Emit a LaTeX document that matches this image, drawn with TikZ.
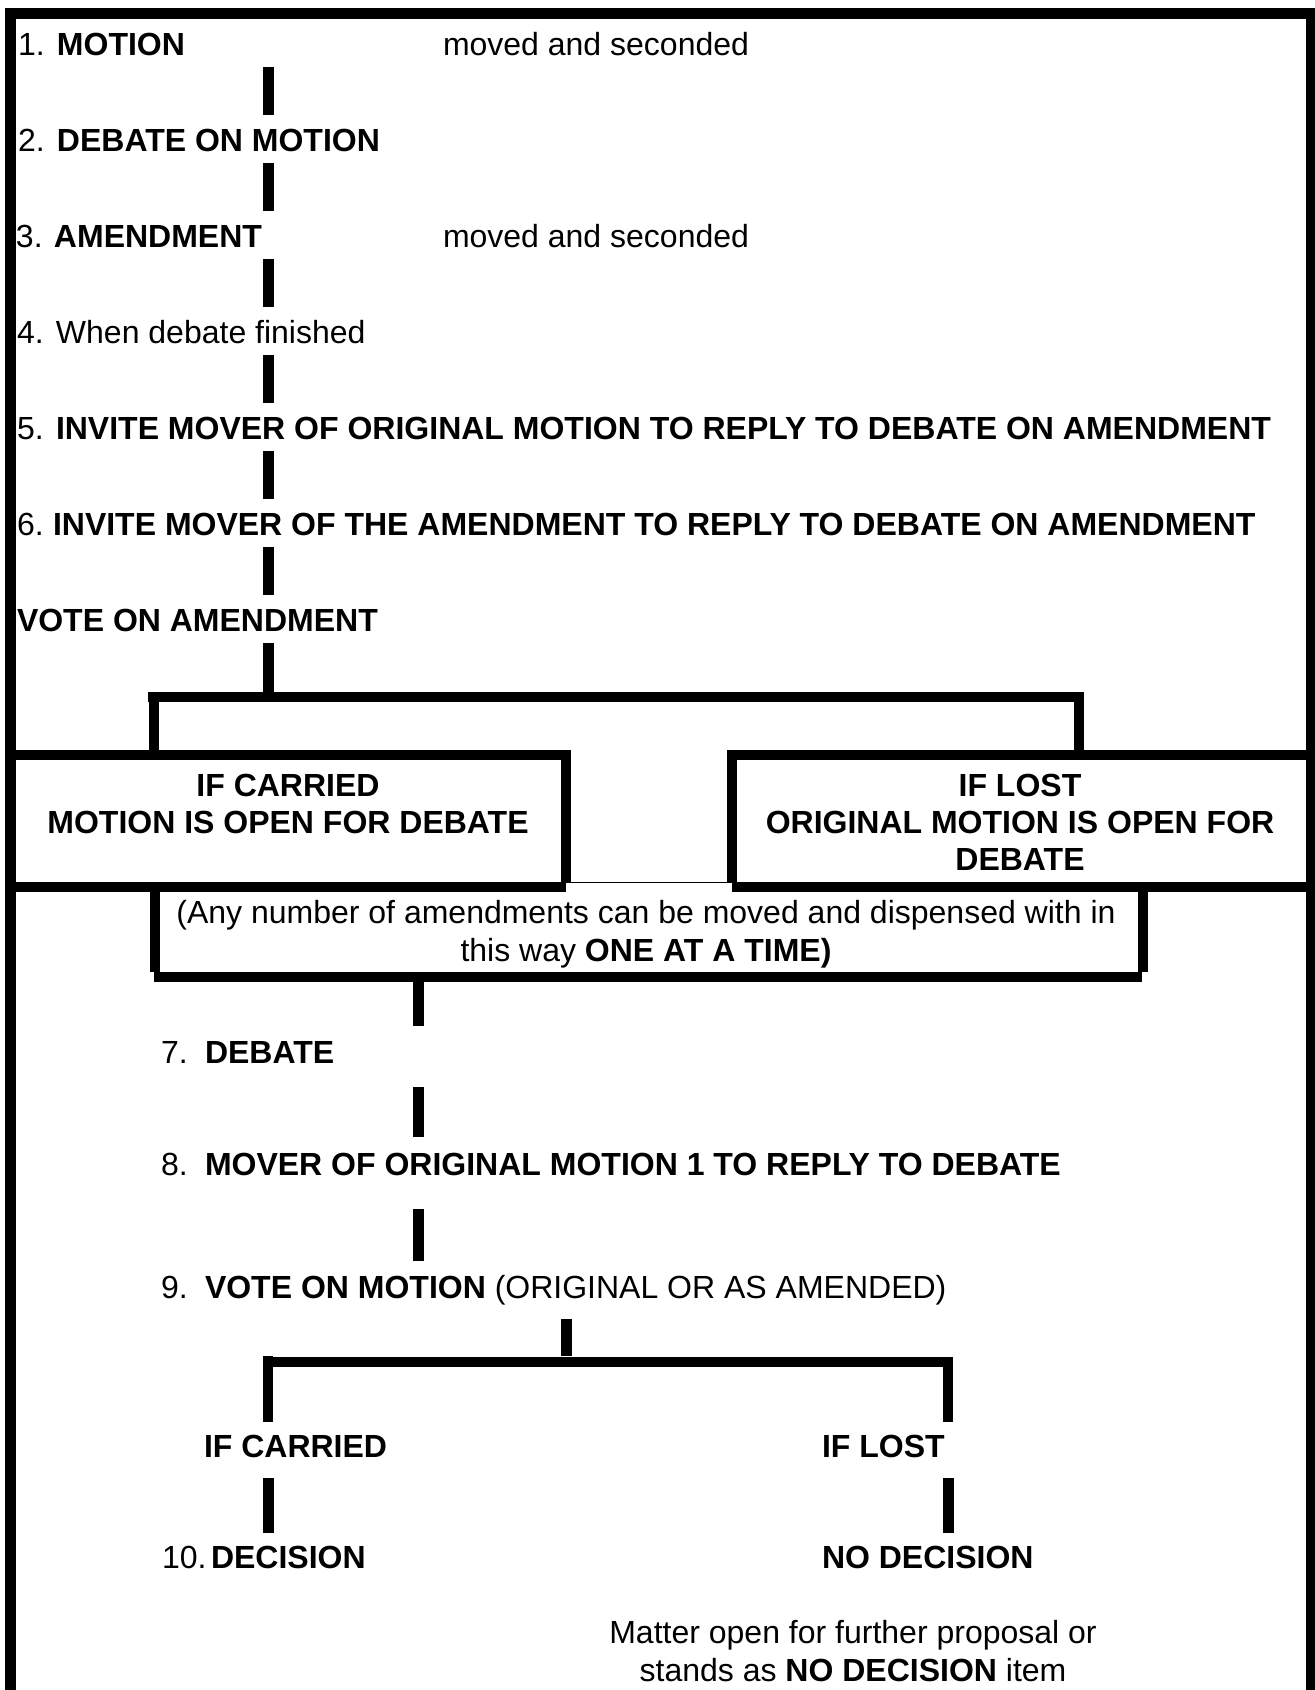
\documentclass[tikz,border=0pt]{standalone}
\usepackage{fontspec}
\setmainfont{Liberation Sans}
\begin{document}
\begin{tikzpicture}[x=1pt,y=-1pt,
  txt/.style={inner sep=0pt, outer sep=0pt, anchor=base west, font=\fontsize{32}{37}\selectfont},
  ctxt/.style={inner sep=0pt, outer sep=0pt, anchor=base, font=\fontsize{32}{37}\selectfont},
  bar/.style={line width=11pt},
  boxline/.style={line width=10pt},
  thinline/.style={line width=1.5pt}]
\fill[white] (0,0) rectangle (1315,1690);
\useasboundingbox (0,0) rectangle (1315,1690);
% outer frame
\fill[black] (5,8) rectangle (1315,19);
\fill[black] (5,8) rectangle (16,1690);
\fill[black] (1306,8) rectangle (1315,1690);

% upper steps
\node[txt] (l1) at (18,55) {\makebox[39pt][l]{1.}\textbf{MOTION}};
\node[txt] (m1) at (443,55) {moved and seconded};
\node[txt] (l2) at (18,151) {\makebox[39pt][l]{2.}\textbf{DEBATE ON MOTION}};
\node[txt] (l3) at (16,247) {\makebox[38pt][l]{3.}\textbf{AMENDMENT}};
\node[txt] (m3) at (443,247) {moved and seconded};
\node[txt] (l4) at (17,343) {\makebox[39pt][l]{4.}When debate finished};
\node[txt] (l5) at (17,439) {\makebox[39pt][l]{5.}\textbf{INVITE MOVER OF ORIGINAL MOTION TO REPLY TO DEBATE ON AMENDMENT}};
\node[txt] (l6) at (17,535) {\makebox[36pt][l]{6.}\textbf{INVITE MOVER OF THE AMENDMENT TO REPLY TO DEBATE ON AMENDMENT}};
\node[txt] (l7) at (17,631) {\textbf{VOTE ON AMENDMENT}};

\foreach \i in {0,...,5} {
  \draw[bar] (268.5,{67+96*\i}) -- (268.5,{115+96*\i});
}
\draw[bar] (268.5,643) -- (268.5,692);

% bracket over the two boxes
\draw[boxline] (148,697) -- (1084,697);
\draw[boxline] (153.5,692) -- (153.5,750);
\draw[boxline] (1079,702) -- (1079,750);

% left box
\draw[boxline] (16,755) -- (571,755);
\draw[boxline] (566,760) -- (566,882);
\draw[boxline] (16,887) -- (566,887);
\node[ctxt] (c1) at (288,796) {\textbf{IF CARRIED}};
\node[ctxt] (c2) at (288,833) {\textbf{MOTION IS OPEN FOR DEBATE}};

% right box
\draw[boxline] (727,755) -- (1306,755);
\draw[boxline] (732,750) -- (732,882);
\draw[boxline] (732,887) -- (1306,887);
\node[ctxt] (r1) at (1020,796) {\textbf{IF LOST}};
\node[ctxt] (r2) at (1020,833) {\textbf{ORIGINAL MOTION IS OPEN FOR}};
\node[ctxt] (r3) at (1020,870) {\textbf{DEBATE}};

% amendments box
\draw[thinline] (159,882.5) -- (1138,882.5);
\draw[boxline] (154.5,892) -- (154.5,972);
\draw[boxline] (154,977) -- (1142,977);
\draw[boxline] (1142.5,892) -- (1142.5,972);
\node[ctxt] (a1) at (646,923) {(Any number of amendments can be moved and dispensed with in};
\node[ctxt] (a2) at (646,961) {this way \textbf{ONE AT A TIME)}};

% lower steps
\draw[bar] (418,982) -- (418,1026);
\node[txt] (l8) at (161,1063) {\makebox[44pt][l]{7.}\textbf{DEBATE}};
\draw[bar] (418,1087) -- (418,1137);
\node[txt] (l9) at (161,1175) {\makebox[44pt][l]{8.}\textbf{MOVER OF ORIGINAL MOTION 1 TO REPLY TO DEBATE}};
\draw[bar] (418,1209) -- (418,1261);
\node[txt] (l10) at (161,1298) {\makebox[44pt][l]{9.}\textbf{VOTE ON MOTION} (ORIGINAL OR AS AMENDED)};

% final bracket
\draw[bar] (566,1319) -- (566,1356);
\draw[boxline] (263,1361.5) -- (953,1361.5);
\draw[boxline] (268,1356) -- (268,1422);
\draw[boxline] (948,1367) -- (948,1422);

\node[txt] (ifc) at (204,1457) {\textbf{IF CARRIED}};
\node[txt] (ifl) at (822,1457) {\textbf{IF LOST}};
\draw[bar] (268,1478) -- (268,1533);
\draw[bar] (948,1478) -- (948,1533);
\node[txt] (dec) at (162,1568) {\makebox[49pt][l]{10.}\textbf{DECISION}};
\node[txt] (nodec) at (822,1568) {\textbf{NO DECISION}};
\node[ctxt] (mat1) at (853,1643) {Matter open for further proposal or};
\node[ctxt] (mat2) at (853,1681) {stands as \textbf{NO DECISION} item};
\end{tikzpicture}
\end{document}
